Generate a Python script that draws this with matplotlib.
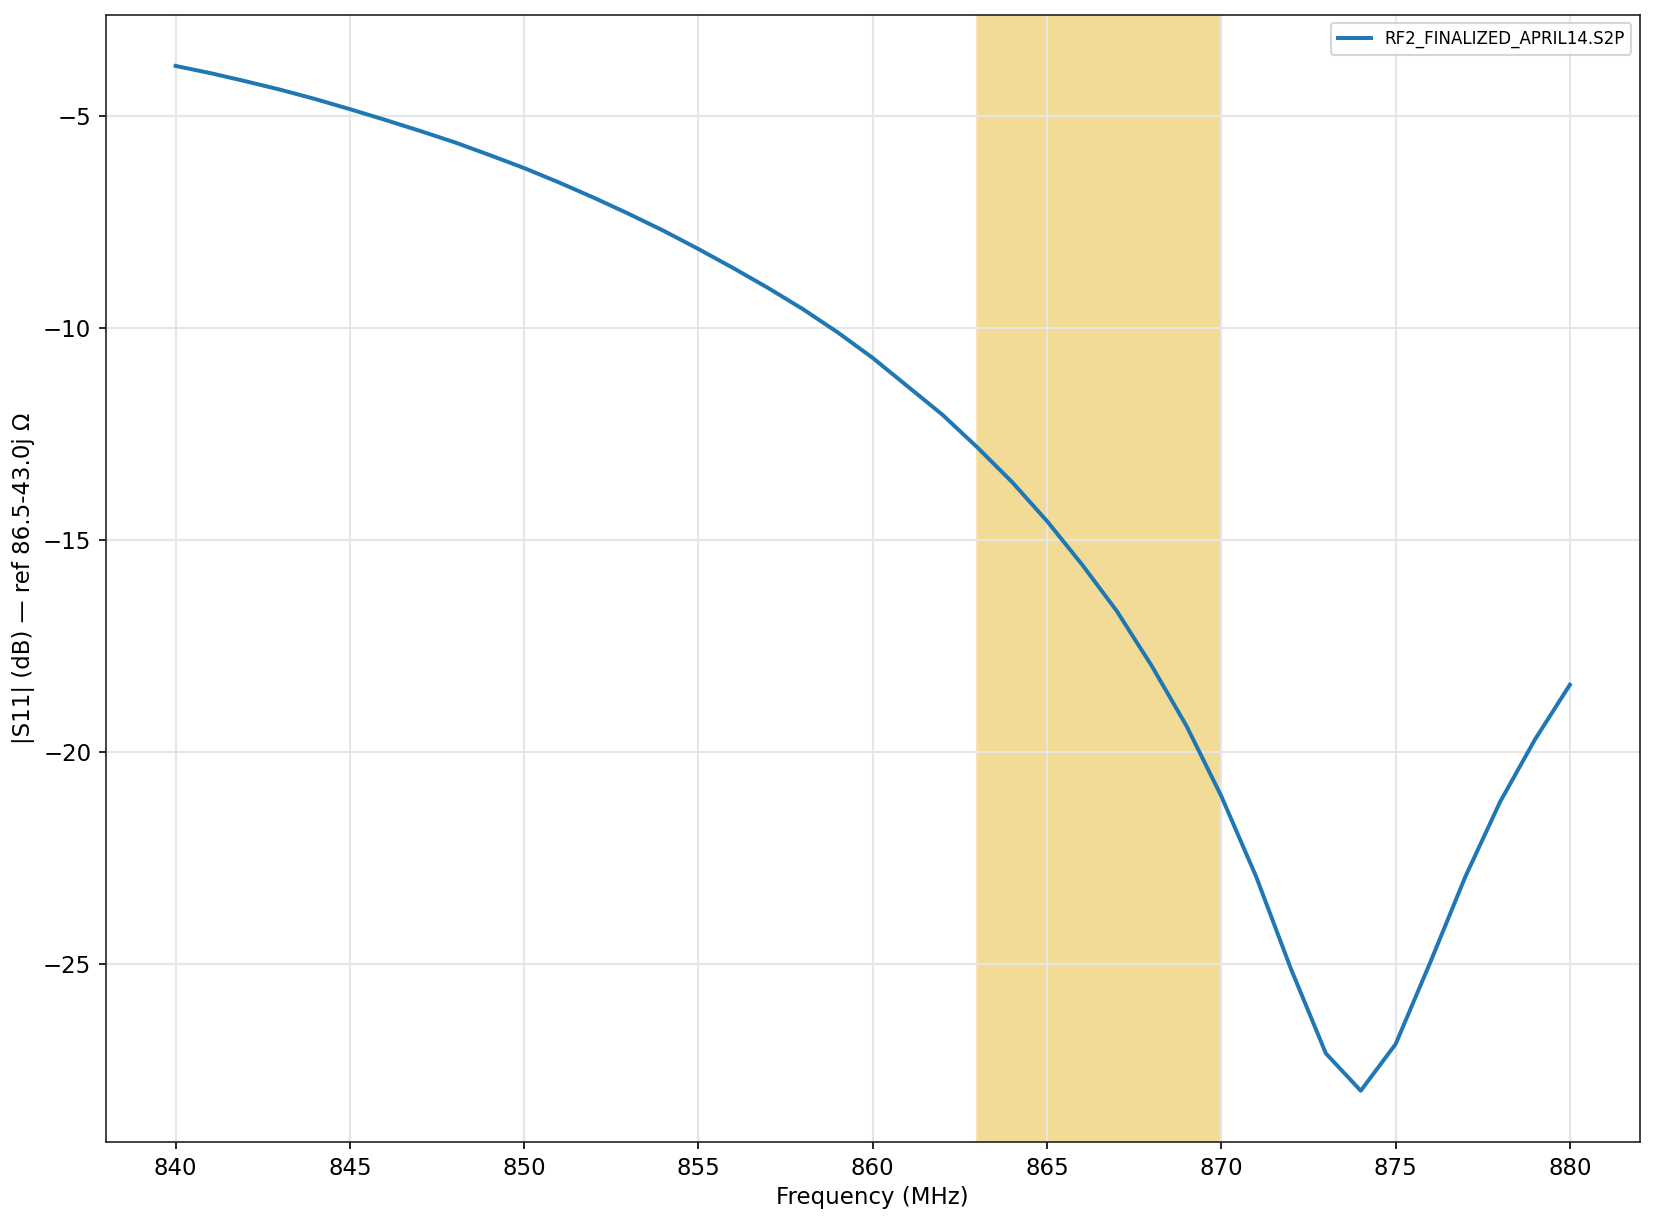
import matplotlib
matplotlib.use('Agg')
import matplotlib.pyplot as plt
import numpy as np

# Frequency sweep (MHz) and |S11| in dB
freq_mhz = np.arange(840, 881)
s11_db = [
    -3.81, -3.98, -4.17, -4.37, -4.59, -4.83, -5.08, -5.34, -5.61, -5.91,
    -6.22, -6.56, -6.92, -7.30, -7.70, -8.13, -8.58, -9.05, -9.55, -10.10,
    -10.70, -11.37, -12.04, -12.81, -13.63, -14.55, -15.57, -16.67, -17.96, -19.38,
    -21.04, -22.94, -25.12, -27.11, -27.99, -26.89, -24.95, -22.94, -21.17, -19.70,
    -18.41,
]
band_mhz = (863, 870)
trace_label = 'RF2_FINALIZED_APRIL14.S2P'

plt.rcParams['font.size'] = 11

fig, ax = plt.subplots(figsize=(11.03, 8.16), dpi=150)
ax.axvspan(*band_mhz, color='#f1db96', alpha=1.0, lw=1, ec='#f4e4b4')
ax.plot(freq_mhz, s11_db, color='#1f77b4', lw=1.9, label=trace_label)

ax.set_xlabel('Frequency (MHz)', labelpad=3)
ax.set_ylabel('|S11| (dB) — ref 86.5-43.0j Ω')
ax.set_xticks(np.arange(840, 881, 5))
ax.set_yticks([-25, -20, -15, -10, -5])
ax.grid(True, color='#e6e6e6', lw=1)
for s in ax.spines.values():
    s.set_color('#222222')
ax.legend(loc='upper right', fontsize=8)

fig.subplots_adjust(left=0.064, right=0.991, top=0.988, bottom=0.067)
plt.savefig('out.png')
plt.close()
